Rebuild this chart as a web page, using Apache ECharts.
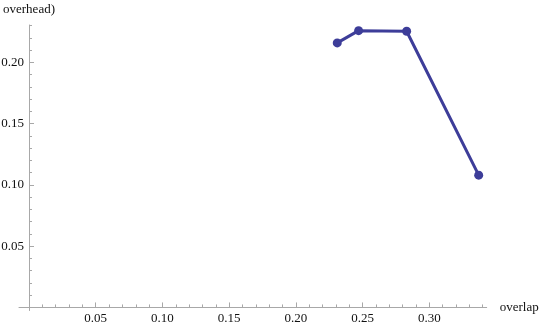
<!DOCTYPE html>
<html>
<head>
<meta charset="utf-8">
<script src="https://cdn.jsdelivr.net/npm/echarts@6/dist/echarts.min.js"></script>
<style>
html,body{margin:0;padding:0;background:#fff;}
#chart{width:540px;height:325px;}
</style>
</head>
<body>
<div id="chart"></div>
<script>
var overlapValues = [0.231, 0.247, 0.283, 0.337];
var overheadValues = [0.216, 0.226, 0.2255, 0.108];
var xMajorTicks = [0.05, 0.10, 0.15, 0.20, 0.25, 0.30];
var xMinorTicks = [0.01,0.02,0.03,0.04,0.05,0.06,0.07,0.08,0.09,0.10,0.11,0.12,0.13,0.14,0.15,0.16,0.17,0.18,0.19,0.20,0.21,0.22,0.23,0.24,0.25,0.26,0.27,0.28,0.29,0.30,0.31,0.32,0.33,0.34];
var yMajorTicks = [0.05, 0.10, 0.15, 0.20];
var yMinorTicks = [0.01,0.02,0.03,0.04,0.05,0.06,0.07,0.08,0.09,0.10,0.11,0.12,0.13,0.14,0.15,0.16,0.17,0.18,0.19,0.20,0.21,0.22,0.23];
var xName = 'overlap';
var yName = 'overhead)';

var points = overlapValues.map(function (x, i) { return [x, overheadValues[i]]; });
var font = 'Liberation Serif';
var axisColor = '#a8a8a8';
var xMin = -0.0075, xMax = 0.343, yMin = -0.0025, yMax = 0.2306;

var chart = echarts.init(document.getElementById('chart'), null, {renderer: 'canvas'});
chart.setOption({
  animation: false,
  backgroundColor: '#ffffff',
  grid: {left: 19, right: 53.3, top: 25, bottom: 14.5, containLabel: false, outerBoundsMode: 'none'},
  xAxis: [{
    type: 'value', min: xMin, max: xMax, position: 'bottom',
    name: xName, nameLocation: 'end', nameGap: 13,
    nameTextStyle: {fontFamily: font, fontSize: 13, color: '#111', verticalAlign: 'middle'},
    axisLine: {show: true, onZero: true, lineStyle: {color: axisColor, width: 1}},
    axisTick: {show: true, inside: true, length: 3, customValues: xMinorTicks, lineStyle: {color: axisColor}},
    axisLabel: {show: true, customValues: xMajorTicks, margin: 2, fontFamily: font, fontSize: 13, color: '#111',
      formatter: function (v) { return v.toFixed(2); }},
    splitLine: {show: false}
  }, {
    type: 'value', min: xMin, max: xMax, position: 'bottom',
    axisLine: {show: false, onZero: true},
    axisTick: {show: true, inside: true, length: 5, customValues: xMajorTicks, lineStyle: {color: axisColor}},
    axisLabel: {show: false},
    splitLine: {show: false}
  }],
  yAxis: [{
    type: 'value', min: yMin, max: yMax, position: 'left',
    name: yName, nameLocation: 'end', nameGap: 9,
    nameTextStyle: {fontFamily: font, fontSize: 13, color: '#111'},
    axisLine: {show: true, onZero: true, lineStyle: {color: axisColor, width: 1}},
    axisTick: {show: true, inside: true, length: 3, customValues: yMinorTicks, lineStyle: {color: axisColor}},
    axisLabel: {show: true, customValues: yMajorTicks, margin: -5, fontFamily: font, fontSize: 13, color: '#111',
      formatter: function (v) { return v.toFixed(2); }},
    splitLine: {show: false}
  }, {
    type: 'value', min: yMin, max: yMax, position: 'left',
    axisLine: {show: false, onZero: true},
    axisTick: {show: true, inside: true, length: 5, customValues: yMajorTicks, lineStyle: {color: axisColor}},
    axisLabel: {show: false},
    splitLine: {show: false}
  }],
  series: [{
    type: 'line',
    xAxisIndex: 0, yAxisIndex: 0,
    data: points,
    symbol: 'circle', symbolSize: 9,
    lineStyle: {color: '#3d3d99', width: 3},
    itemStyle: {color: '#3d3d99'},
    clip: false
  }]
});
</script>
</body>
</html>
